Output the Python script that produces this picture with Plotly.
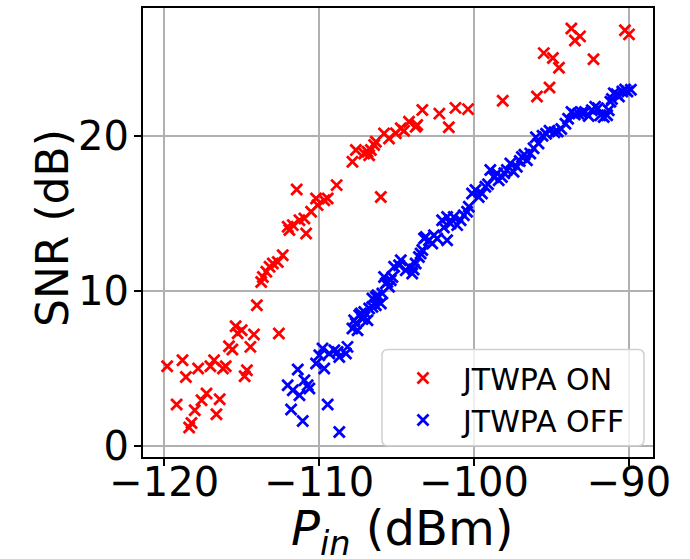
import plotly.graph_objects as go

# SNR vs input power, amplifier on
on_pin = [-119.81, -118.82, -118.60, -119.20, -117.81, -117.02, -116.78, -116.21, -116.03,
          -114.66, -114.81, -117.27, -117.59, -118.03, -116.42, -116.63, -118.24, -118.39,
          -115.82, -115.60, -114.44, -115.39, -115.00, -115.26, -114.21, -112.60, -114.02,
          -113.74, -113.63, -113.41, -113.20, -112.99, -112.67, -112.35, -111.92, -112.03,
          -111.70, -111.27, -110.95, -110.52, -110.84, -111.45, -110.20, -110.10, -109.67,
          -109.45, -108.87, -106.02, -107.85, -107.63, -107.09, -106.88, -106.77, -106.66,
          -106.45, -106.34, -105.81, -105.49, -105.05, -104.73, -104.52, -104.20, -103.77,
          -103.67, -103.34, -102.24, -101.63, -101.20, -100.39, -98.15, -95.94, -95.13,
          -95.50, -94.91, -94.52, -93.72, -93.16, -93.49, -92.29, -90.26, -90.00]
on_snr = [5.16, 5.55, 4.47, 2.69, 5.01, 5.16, 5.55, 5.01, 5.16,
          4.90, 4.52, 3.40, 2.97, 2.32, 3.03, 2.06, 1.50, 1.21,
          6.45, 6.24, 6.41, 7.74, 7.48, 7.29, 7.21, 7.27, 9.10,
          10.60, 10.92, 11.25, 11.57, 11.79, 11.89, 12.32, 13.94, 14.15,
          14.26, 14.58, 14.69, 15.12, 13.72, 16.56, 15.98, 15.55, 15.87,
          15.98, 16.84, 16.08, 18.34, 19.10, 18.88, 18.99, 18.77, 19.10,
          19.42, 19.63, 20.17, 19.85, 20.19, 20.50, 20.34, 20.92, 20.60,
          20.71, 21.68, 21.45, 20.57, 21.82, 21.74, 22.28, 22.55, 23.14,
          25.35, 25.03, 24.41, 26.94, 26.43, 26.17, 24.96, 26.83, 26.56]

# SNR vs input power, amplifier off
off_pin = [-111.38, -112.03, -111.70, -111.27, -110.95, -110.74, -110.63, -111.81, -111.06,
           -109.45, -108.70, -110.20, -109.99, -109.67, -109.78, -109.34, -109.02, -108.81,
           -108.70, -108.27, -108.17, -107.85, -107.52, -107.74, -107.41, -107.09, -106.88,
           -106.77, -106.34, -106.56, -106.24, -105.92,
           -107.63, -107.31, -107.09, -106.56, -106.34, -106.02, -105.70, -105.81, -105.49,
           -105.38, -105.27, -105.16, -104.84, -104.73, -104.41, -104.20, -103.99, -103.77,
           -103.56, -103.45, -103.34, -103.23, -103.12, -102.91, -102.70, -102.59, -102.38,
           -101.74, -102.06, -101.74, -101.52, -101.31, -101.09, -100.87, -100.66, -100.45,
           -100.34, -100.13, -99.91, -99.70, -99.49, -99.27, -98.95, -98.73, -98.52,
           -98.41, -98.20, -97.88, -97.66, -97.45, -97.24, -96.91, -96.59, -96.37,
           -96.16, -95.84, -96.01, -95.58, -95.13, -94.81, -94.37, -93.93, -93.71,
           -93.27, -92.84, -92.40, -92.18, -91.85, -91.63, -91.41, -91.31, -91.20,
           -90.98, -90.65, -90.43, -90.10, -89.88,
           -95.35, -94.60, -94.10, -93.50, -93.05, -92.60, -92.00, -91.10, -90.80,
           -90.25, -96.75, -97.05, -98.05, -99.10, -101.95, -103.90, -105.60, -107.20]
off_snr = [4.95, 3.94, 3.61, 3.29, 4.26, 3.94, 3.72, 2.37, 1.63,
           2.69, 0.92, 5.34, 5.87, 5.01, 6.30, 5.98, 6.19, 6.08,
           5.76, 5.98, 6.41, 7.59, 7.48, 8.13, 8.45, 8.66, 8.13,
           8.88, 9.10, 9.53, 9.74, 9.85,
           7.92, 8.56, 8.34, 8.99, 9.63, 9.21, 10.50, 10.92, 10.28,
           10.71, 10.92, 11.57, 11.68, 12.00, 11.35, 11.57, 11.14, 11.79,
           12.21, 12.43, 12.65, 13.40, 13.50, 13.29, 13.08, 13.61, 13.40,
           13.29, 14.58, 14.79, 14.37, 14.79, 14.26, 14.58, 14.90, 15.12,
           15.44, 16.30, 16.52, 16.08, 16.30, 16.73, 17.81, 17.37, 17.59,
           17.16, 17.37, 17.81, 18.24, 17.70, 18.02, 18.66, 18.45, 18.88,
           19.21, 19.53, 19.92, 20.03, 20.35, 20.25, 20.46, 21.12, 21.56,
           21.45, 21.56, 21.67, 21.89, 21.34, 21.23, 21.34, 21.67, 22.22,
           22.77, 22.55, 22.88, 22.88, 22.99,
           20.15, 20.30, 20.80, 21.40, 21.50, 21.30, 21.80, 22.40, 22.70,
           23.00, 18.80, 18.40, 17.60, 16.90, 14.10, 11.40, 10.60, 8.20]

x_ticks = [-120, -110, -100, -90]
y_ticks = [0, 10, 20]

FONT = "DejaVu Sans"

def marker(color):
    return dict(symbol="x-thin", size=11, color=color,
                line=dict(color=color, width=2.8))

fig = go.Figure()
fig.add_trace(go.Scatter(x=on_pin, y=on_snr, mode="markers", name="JTWPA ON",
                         marker=marker("#ff0000")))
fig.add_trace(go.Scatter(x=off_pin, y=off_snr, mode="markers", name="JTWPA OFF",
                         marker=marker("#0000ff")))

axis_common = dict(
    showgrid=True, gridcolor="#b0b0b0", gridwidth=2,
    showline=True, linecolor="black", linewidth=2, mirror=True,
    ticks="outside", ticklen=7, tickwidth=2, tickcolor="black",
    tickfont=dict(family=FONT, size=40, color="black"),
    zeroline=False, automargin=False,
)

fig.update_xaxes(range=[-121.37, -88.45], tickvals=x_ticks,
                 ticklabelstandoff=-18, **axis_common)
fig.update_yaxes(range=[-0.69, 28.26], tickvals=y_ticks,
                 ticklabelstandoff=-3, **axis_common)

# axis titles, placed as paper-anchored text
fig.add_annotation(text="<i>P</i><sub><i>in</i></sub> (dBm)", showarrow=False,
                   xref="paper", yref="paper",
                   x=(402 - 143) / 510, y=(457 - 531) / 449,
                   xanchor="center", yanchor="middle",
                   font=dict(family=FONT, size=48, color="black"))
fig.add_annotation(text="SNR (dB)", textangle=-90, showarrow=False,
                   xref="paper", yref="paper",
                   x=(53 - 143) / 510, y=(457 - 228) / 449,
                   xanchor="center", yanchor="middle",
                   font=dict(family=FONT, size=44, color="black"))

# rounded legend frame
x0, x1 = (382 - 143) / 510, (644 - 143) / 510
y0, y1 = (457 - 445.7) / 449, (457 - 349.5) / 449
rx, ry = 6 / 510, 6 / 449
path = (f"M {x0+rx},{y1} L {x1-rx},{y1} Q {x1},{y1} {x1},{y1-ry} "
        f"L {x1},{y0+ry} Q {x1},{y0} {x1-rx},{y0} L {x0+rx},{y0} "
        f"Q {x0},{y0} {x0},{y0+ry} L {x0},{y1-ry} Q {x0},{y1} {x0+rx},{y1} Z")
fig.add_shape(type="path", path=path, xref="paper", yref="paper",
              fillcolor="rgba(255,255,255,0.8)",
              line=dict(color="#d0d0d0", width=1.5), layer="above")

fig.update_layout(
    width=690, height=559,
    margin=dict(l=143, r=37, t=8, b=102, autoexpand=False),
    paper_bgcolor="white", plot_bgcolor="white",
    font=dict(family=FONT, color="black"),
    legend=dict(x=(383 - 143) / 510, y=(457 - 352) / 449,
                xanchor="left", yanchor="top",
                bgcolor="rgba(0,0,0,0)", borderwidth=0,
                font=dict(family=FONT, size=30, color="black"),
                itemwidth=70),
    showlegend=True,
)

fig.write_html("out.html")
